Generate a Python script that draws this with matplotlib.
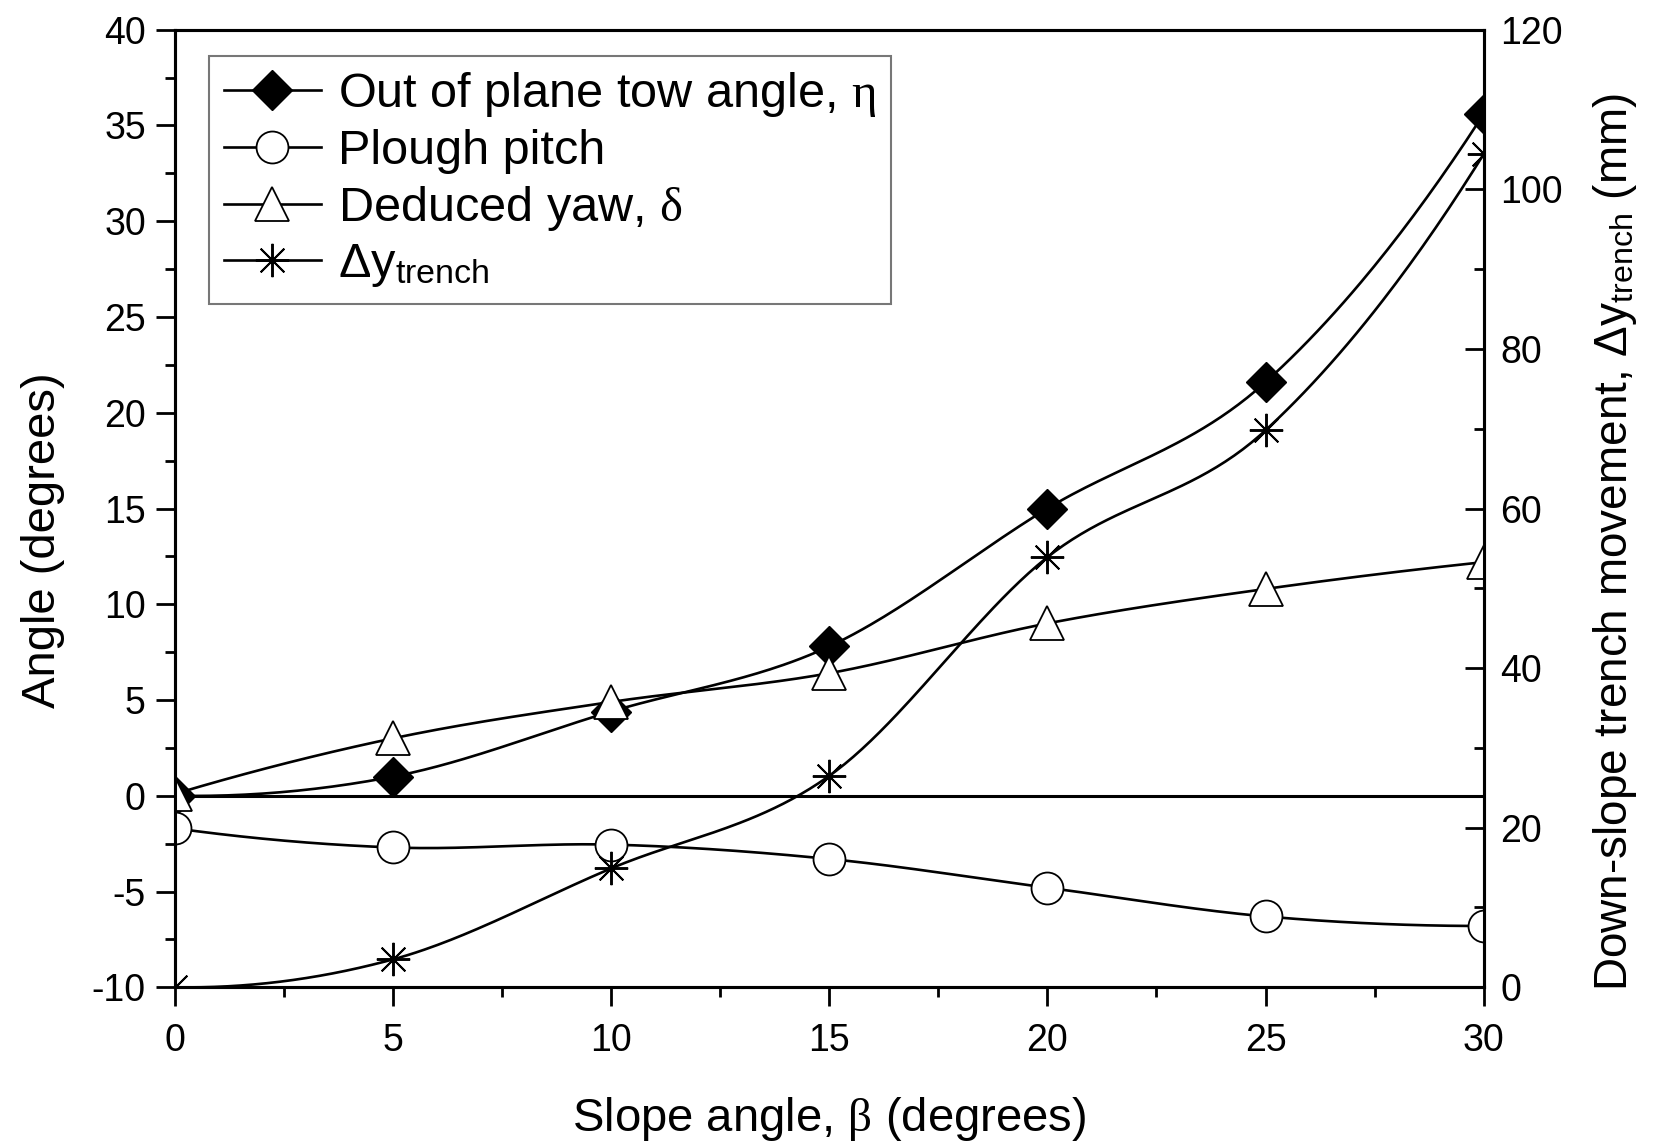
import numpy as np
import matplotlib
matplotlib.use("Agg")
import matplotlib.pyplot as plt
from matplotlib.lines import Line2D
from matplotlib.ticker import MultipleLocator

plt.rcParams['font.family'] = ['Liberation Sans', 'DejaVu Sans']
plt.rcParams['mathtext.fontset'] = 'custom'
plt.rcParams['mathtext.rm'] = 'Liberation Serif'
plt.rcParams['mathtext.sf'] = 'Liberation Sans'
plt.rcParams['mathtext.it'] = 'Liberation Serif:italic'
plt.rcParams['axes.unicode_minus'] = False

# slope angle beta (degrees)
slope = [0, 5, 10, 15, 20, 25, 30]

# left axis (degrees)
tow_angle = [0.0, 1.0, 4.4, 7.8, 15.0, 21.6, 35.6]
plough_pitch = [-1.7, -2.7, -2.55, -3.3, -4.8, -6.3, -6.8]
yaw = [0.1, 3.0, 4.9, 6.4, 9.0, 10.8, 12.2]

# right axis (mm)
dy_trench = [0.0, 3.5, 14.9, 26.5, 53.9, 69.8, 104.4]

labels = [
    r'Out of plane tow angle, $\mathrm{\eta}$',
    'Plough pitch',
    r'Deduced yaw, $\mathrm{\delta}$',
    r'Δy$_{\mathsf{trench}}$',
]


def spline(x, y, n=300):
    """Cubic Hermite curve through (x, y) with parabolic end tangents."""
    x = np.asarray(x, float)
    y = np.asarray(y, float)
    k = len(x)
    d = np.diff(y) / np.diff(x)
    m = np.zeros(k)
    m[1:-1] = (y[2:] - y[:-2]) / (x[2:] - x[:-2])
    m[0] = 2 * d[0] - m[1]
    m[-1] = 2 * d[-1] - m[-2]
    xs = np.linspace(x[0], x[-1], n)
    idx = np.clip(np.searchsorted(x, xs) - 1, 0, k - 2)
    h = x[idx + 1] - x[idx]
    t = (xs - x[idx]) / h
    h00 = 2 * t ** 3 - 3 * t ** 2 + 1
    h10 = t ** 3 - 2 * t ** 2 + t
    h01 = -2 * t ** 3 + 3 * t ** 2
    h11 = t ** 3 - t ** 2
    ys = h00 * y[idx] + h10 * h * m[idx] + h01 * y[idx + 1] + h11 * h * m[idx + 1]
    return xs, ys


def main():
    fig = plt.figure(figsize=(16.67, 11.44), dpi=100)
    ax = fig.add_axes([0.105, 0.137, 0.785, 0.837])
    ax2 = ax.twinx()

    lw = 1.9
    styles = [
        dict(marker='D', ms=20, mfc='black', mec='black'),
        dict(marker='o', ms=23, mfc='white', mec='black', mew=1.3),
        dict(marker='^', ms=24, mfc='white', mec='black', mew=1.3),
        dict(marker=(8, 2, 0), ms=24, mfc='black', mec='black', mew=1.4),
    ]

    ax.axhline(0, color='black', lw=2.2, zorder=1)

    for axis, y, st in [(ax, tow_angle, styles[0]),
                        (ax, plough_pitch, styles[1]),
                        (ax, yaw, styles[2]),
                        (ax2, dy_trench, styles[3])]:
        xs, ys = spline(slope, y)
        axis.plot(xs, ys, color='black', lw=lw, zorder=2)
        axis.plot(slope, y, linestyle='none', zorder=3, **st)

    ax.set_xlim(0, 30)
    ax.set_ylim(-10, 40)
    ax2.set_ylim(0, 120)

    ax.xaxis.set_major_locator(MultipleLocator(5))
    ax.xaxis.set_minor_locator(MultipleLocator(2.5))
    ax.yaxis.set_major_locator(MultipleLocator(5))
    ax.yaxis.set_minor_locator(MultipleLocator(2.5))
    ax2.yaxis.set_major_locator(MultipleLocator(20))
    ax2.yaxis.set_minor_locator(MultipleLocator(10))

    ax.tick_params(axis='both', which='major', direction='out', length=14,
                   width=2, labelsize=27, pad=7)
    ax.tick_params(axis='x', which='major', pad=12)
    ax.tick_params(axis='both', which='minor', direction='out', length=7, width=2)
    ax.tick_params(axis='x', top=False, which='both')
    ax2.tick_params(axis='y', which='major', direction='in', length=14,
                    width=2, labelsize=27, pad=12)
    ax2.tick_params(axis='y', which='minor', direction='in', length=7, width=2)

    for a in (ax, ax2):
        for sp in a.spines.values():
            sp.set_linewidth(2.2)

    ax.set_xlabel(r'Slope angle, $\mathrm{\beta}$ (degrees)', fontsize=34, labelpad=26)
    ax.set_ylabel('Angle (degrees)', fontsize=34, labelpad=19)
    ax2.set_ylabel(r'Down-slope trench movement, Δy$_{\mathsf{trench}}$ (mm)',
                   fontsize=33, labelpad=20)
    ax.yaxis.label.set_y(0.467)
    ax2.yaxis.label.set_y(0.465)

    handles = [Line2D([], [], color='black', lw=lw, **st) for st in styles]
    leg = ax2.legend(handles, labels, loc='upper left',
                     bbox_to_anchor=(0.026, 0.973), borderaxespad=0,
                     fontsize=35, frameon=True, fancybox=False,
                     handlelength=2.0, handletextpad=0.35, labelspacing=0.2,
                     borderpad=0.3)
    leg.get_frame().set_edgecolor('#555555')
    leg.get_frame().set_linewidth(1.5)

    fig.savefig('out.png', dpi=100)


if __name__ == "__main__":
    main()
